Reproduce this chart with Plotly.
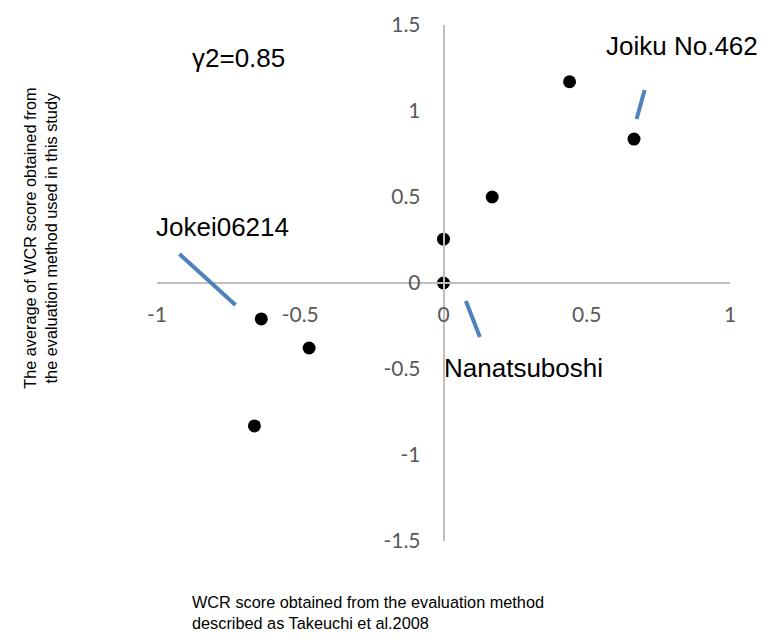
import plotly.graph_objects as go

# Data
x_takeuchi = [0.0, 0.0, 0.17, 0.44, 0.665, -0.636, -0.469, -0.66]
y_this_study = [0.0, 0.255, 0.5, 1.17, 0.837, -0.209, -0.378, -0.831]

x_ticks = [-1, -0.5, 0, 0.5, 1]
x_tick_labels = ["-1", "-0.5", "0", "0.5", "1"]
y_ticks = [-1.5, -1, -0.5, 0, 0.5, 1, 1.5]
y_tick_labels = ["-1.5", "-1", "-0.5", "0", "0.5", "1", "1.5"]

# Callout labels (data coordinates) and their leader lines
label_texts = ["Jokei06214", "Joiku No.462", "Nanatsuboshi"]
label_x = [-0.772, 0.832, 0.28]
label_y = [0.326, 1.378, -0.494]
leader_x0 = [-0.922, 0.702, 0.078]
leader_y0 = [0.169, 1.122, -0.105]
leader_x1 = [-0.726, 0.674, 0.127]
leader_y1 = [-0.128, 0.953, -0.314]

r2_text = "γ2=0.85"
r2_x, r2_y = -0.716, 1.308

x_title = "WCR score obtained from the evaluation method<br>described as Takeuchi et al.2008"
y_title = "The average of WCR score obtained from<br>the evaluation method used in this study"

fig = go.Figure()
fig.add_trace(go.Scatter(
    x=x_takeuchi, y=y_this_study, mode="markers",
    marker=dict(color="black", size=13), showlegend=False, hoverinfo="skip"))

for x0, y0, x1, y1 in zip(leader_x0, leader_y0, leader_x1, leader_y1):
    fig.add_shape(type="line", x0=x0, y0=y0, x1=x1, y1=y1, xref="x", yref="y",
                  line=dict(color="#4F81BD", width=4))

txt_font = dict(family="Liberation Sans, Arial, sans-serif", size=26, color="black")
for t, xx, yy in zip(label_texts, label_x, label_y):
    fig.add_annotation(x=xx, y=yy, text=t, showarrow=False, font=txt_font,
                       xanchor="center", yanchor="middle")
fig.add_annotation(x=r2_x, y=r2_y, text=r2_text, showarrow=False, font=txt_font,
                   xanchor="center", yanchor="middle")

title_font = dict(family="Liberation Sans, Arial, sans-serif", size=16.3, color="black")
fig.add_annotation(xref="paper", yref="paper", x=0.0584, y=-0.1395, text=x_title,
                   showarrow=False, xanchor="left", yanchor="middle", align="left",
                   font=title_font)
fig.add_annotation(xref="paper", yref="paper", x=-0.2047, y=0.587, text=y_title,
                   showarrow=False, xanchor="center", yanchor="middle", textangle=-90,
                   align="center", font=title_font)

tick_font = dict(family="Lato, Liberation Sans, sans-serif", size=21, color="#595959")
fig.update_layout(
    width=752, height=626,
    margin=dict(l=148.5, r=29.5, t=17, b=93),
    paper_bgcolor="white", plot_bgcolor="white",
    xaxis=dict(range=[-1, 1], tickvals=x_ticks, ticktext=x_tick_labels,
               showgrid=False, zeroline=False, showline=True, linecolor="#BFBFBF",
               linewidth=1.5, ticks="", anchor="free", position=0.5, automargin=False,
               tickfont=tick_font, ticklabelstandoff=13),
    yaxis=dict(range=[-1.5, 1.5], tickvals=y_ticks, ticktext=y_tick_labels,
               showgrid=False, zeroline=False, showline=True, linecolor="#BFBFBF",
               linewidth=1.5, ticks="", anchor="free", position=0.5, automargin=False,
               tickfont=tick_font, ticklabelstandoff=18),
)

fig.write_html("out.html")
